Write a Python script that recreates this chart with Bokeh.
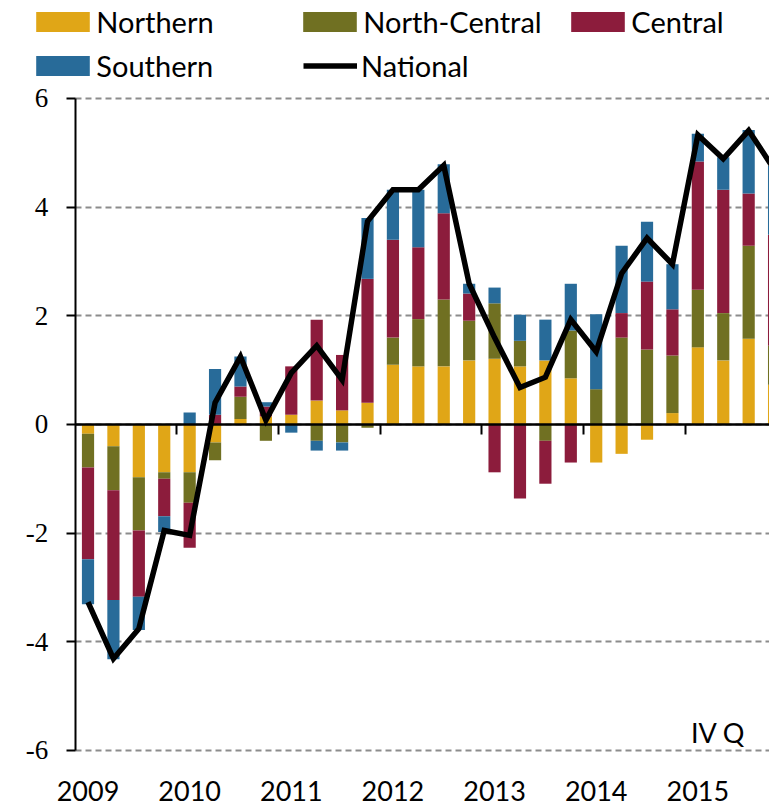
from bokeh.plotting import figure
from bokeh.models import (Legend, LegendItem, LinearAxis, FixedTicker, Label, LabelSet,
                          ColumnDataSource, Range1d)
from bokeh.embed import file_html
from bokeh.resources import INLINE

# ---------------- data ----------------
years = ["2009", "2010", "2011", "2012", "2013", "2014", "2015"]
quarter_names = ["I", "II", "III", "IV"]
quarters = [f"{y} {q}" for y in years for q in quarter_names]

northern = [-0.17, -0.40, -0.97, -0.88, -0.88, -0.33, 0.10, 0.15,
            0.18, 0.44, 0.26, 0.40, 1.10, 1.07, 1.07, 1.18,
            1.21, 1.07, 1.18, 0.85, -0.70, -0.54, -0.28, 0.21,
            1.42, 1.18, 1.58, 0.73]
north_central = [-0.62, -0.81, -0.98, -0.12, -0.56, -0.33, 0.41, -0.30,
                 0.00, -0.30, -0.33, -0.06, 0.50, 0.87, 1.23, 0.73,
                 1.02, 0.47, -0.30, 0.88, 0.65, 1.60, 1.38, 1.06,
                 1.06, 0.87, 1.71, 0.72]
central = [-1.69, -2.02, -1.22, -0.69, -0.83, 0.18, 0.19, 0.18,
           0.89, 1.49, 1.02, 2.28, 1.80, 1.32, 1.59, 0.50,
           -0.88, -1.36, -0.79, -0.70, 0.00, 0.45, 1.25, 0.85,
           2.36, 2.27, 0.96, 2.04]
southern = [-0.83, -1.09, -0.61, -0.29, 0.22, 0.84, 0.55, 0.08,
            -0.15, -0.18, -0.15, 1.12, 0.92, 1.06, 0.90, 0.18,
            0.29, 0.48, 0.75, 0.86, 1.38, 1.24, 1.10, 0.83,
            0.51, 0.60, 1.17, 1.27]
national = [-3.27, -4.31, -3.76, -1.95, -2.04, 0.40, 1.25, 0.08,
            0.95, 1.45, 0.82, 3.74, 4.32, 4.32, 4.77, 2.59,
            1.60, 0.68, 0.87, 1.93, 1.34, 2.78, 3.43, 2.95,
            5.33, 4.89, 5.41, 4.70]

y_ticks = [-6, -4, -2, 0, 2, 4, 6]
y_tick_labels = ["-6", "-4", "-2", "0", "2", "4", "6"]
period_note = "IV Q"

series_names = ["Northern", "North-Central", "Central", "Southern"]
series_values = [northern, north_central, central, southern]
series_colors = ["#E0A617", "#707022", "#8C1C3C", "#286B99"]
national_name = "National"

# ---------------- style ----------------
FONT = "Lato"
FS = "27px"
Y_MIN, Y_MAX = y_ticks[0], y_ticks[-1]
X_START = -0.5                       # left edge of first quarter slot (y axis position)
X_END = len(quarters) - 0.5

x = list(range(len(quarters)))

# frame covers most of the canvas so the legend and tick labels (inside the frame) are visible
p = figure(width=769, height=808, output_backend="svg", toolbar_location=None,
           x_range=Range1d(-2.657, 26.82), y_range=Range1d(-6.2945, 7.730),
           min_border_left=20, min_border_right=0, min_border_top=4,
           min_border_bottom=42, outline_line_color=None,
           background_fill_color="white", border_fill_color="white")

xa = p.below[0]
ya = p.left[0]

# stacked (diverging) bars
pos_base = [0.0] * len(x)
neg_base = [0.0] * len(x)
bar_renderers = []
for name, vals, color in zip(series_names, series_values, series_colors):
    bottoms, tops = [], []
    for i, v in enumerate(vals):
        if v >= 0:
            b = pos_base[i]
            t = b + v
            pos_base[i] = t
        else:
            b = neg_base[i]
            t = b + v
            neg_base[i] = t
        bottoms.append(b)
        tops.append(t)
    src = ColumnDataSource(dict(x=x, bottom=bottoms, top=tops, q=quarters))
    r = p.vbar(x="x", bottom="bottom", top="top", width=0.48, source=src,
               fill_color=color, line_color=None)
    bar_renderers.append(r)

line_r = p.line(x, national, line_color="black", line_width=5.5, line_join="miter")

# bottom axis: year labels only
xa.ticker = FixedTicker(ticks=[4 * k for k in range(len(years))])
xa.major_label_overrides = {4 * k: y for k, y in enumerate(years)}
xa.axis_line_color = None
xa.major_tick_line_color = None
xa.minor_tick_line_color = None
xa.major_tick_out = 0
xa.major_tick_in = 0
xa.major_label_standoff = 14
xa.major_label_text_font = FONT
xa.major_label_text_font_size = FS
xa.major_label_text_color = "black"

# zero line axis with year-boundary ticks (labels hidden)
zero_axis = LinearAxis(fixed_location=0, bounds=(X_START, X_END),
                       ticker=FixedTicker(ticks=[4 * k - 0.5 for k in range(1, len(years))]),
                       axis_line_color="black", axis_line_width=2.5,
                       major_tick_line_color="black", major_tick_line_width=2,
                       major_tick_in=10, major_tick_out=0,
                       minor_tick_line_color=None,
                       major_label_text_color=None,
                       major_label_text_font_size="1px", major_label_standoff=0)
p.add_layout(zero_axis, "above")

# y axis at the first slot edge (labels drawn separately)
ya.fixed_location = X_START
ya.bounds = (Y_MIN, Y_MAX)
ya.ticker = FixedTicker(ticks=y_ticks)
ya.axis_line_color = "black"
ya.axis_line_width = 2
ya.major_tick_line_color = "black"
ya.major_tick_line_width = 2
ya.major_tick_out = 9
ya.major_tick_in = 0
ya.minor_tick_line_color = None
ya.major_label_text_color = None
ya.major_label_text_font_size = "1px"
ya.major_label_standoff = 0

ytick_src = ColumnDataSource(dict(x=[X_START] * len(y_ticks), y=y_ticks, text=y_tick_labels))
ylabels = LabelSet(x="x", y="y", text="text", source=ytick_src, x_offset=-27,
                   text_align="right", text_baseline="middle", text_font=FONT,
                   text_font_size=FS, text_color="black")
p.add_layout(ylabels)

p.xgrid.visible = False
yg = p.ygrid[0]
yg.ticker = ya.ticker
yg.grid_line_color = "#8C8C8C"
yg.grid_line_width = 2
yg.grid_line_dash = "6 4"
if "cross_bounds" in yg.properties():
    yg.cross_bounds = (X_START, X_END)
else:
    yg.visible = False
    p.segment(x0=[X_START] * len(y_ticks), x1=[X_END] * len(y_ticks), y0=y_ticks, y1=y_ticks,
              line_color="#8C8C8C", line_width=2, line_dash="6 4", level="underlay")

# legends (one per item, 3-column grid, inside the frame's top area)
legend_entries = [(series_names[0], [bar_renderers[0]]),
                  (series_names[1], [bar_renderers[1]]),
                  (series_names[2], [bar_renderers[2]]),
                  (series_names[3], [bar_renderers[3]]),
                  (national_name, [line_r])]
col_px = [9.3, 276.3, 544.3]
row_px = [727, 683]
for k, (label, rends) in enumerate(legend_entries):
    is_line = (label == national_name)
    lg = Legend(items=[LegendItem(label=label, renderers=rends)],
                location=(col_px[k % 3] + (6.7 if is_line else 0), row_px[k // 3]),
                padding=0, margin=0, spacing=0,
                border_line_color=None, background_fill_alpha=0,
                glyph_width=54 if is_line else 67,
                glyph_height=25, label_height=20,
                label_standoff=4 if is_line else -3, label_text_font=FONT,
                label_text_font_size="29px", label_text_color="black")
    p.add_layout(lg, "center")

note = Label(x=25.87, y=-5.67, text=period_note, text_align="right",
             text_baseline="alphabetic", text_font=FONT, text_font_size=FS,
             text_color="black")
p.add_layout(note)

open("out.html", "w").write(file_html(p, INLINE))
